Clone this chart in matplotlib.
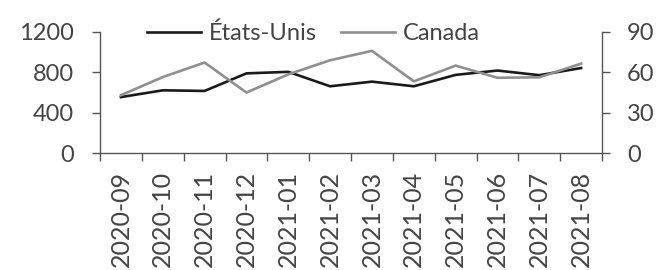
import matplotlib
matplotlib.use("Agg")
import matplotlib.pyplot as plt
import numpy as np

months = ['2020-09', '2020-10', '2020-11', '2020-12', '2021-01', '2021-02',
          '2021-03', '2021-04', '2021-05', '2021-06', '2021-07', '2021-08']
etats_unis = [555, 622, 616, 790, 805, 662, 708, 662, 775, 818, 772, 843]
canada = [43, 56.5, 67.3, 45, 58.5, 69, 76, 53.3, 65, 56, 56.3, 66.5]

plt.rcParams['font.family'] = ['Lato', 'DejaVu Sans']
plt.rcParams['font.size'] = 17
txt = '#444444'
axc = '#555555'

fig = plt.figure(figsize=(6.58, 2.70), dpi=100)
ax = fig.add_axes([0.152, 0.433, 0.763, 0.4485])
ax2 = ax.twinx()

x = np.arange(len(months))
l1, = ax.plot(x, etats_unis, color='#1a1a1a', lw=1.9, label='États-Unis')
l2, = ax2.plot(x, canada, color='#8f8f8f', lw=1.9, label='Canada')

ax.set_xlim(-0.5, len(months) - 0.5)
ax.set_ylim(0, 1200)
ax.set_yticks([0, 400, 800, 1200])
ax2.set_ylim(0, 90)
ax2.set_yticks([0, 30, 60, 90])

ax.set_xticks(x)
ax.set_xticklabels(months, rotation=90, fontsize=18)
ax.set_xticks(np.arange(-0.5, len(months)), minor=True)
ax.tick_params(axis='x', which='major', length=0, pad=13, labelcolor=txt)
ax.tick_params(axis='x', which='minor', length=6, color=axc, width=1)
ax.tick_params(axis='y', length=6, color=axc, width=1, pad=13, labelcolor=txt)
ax2.tick_params(axis='y', length=6, color=axc, width=1, pad=12, labelcolor=txt)

for a in (ax, ax2):
    a.spines['top'].set_visible(False)
    for s in a.spines.values():
        s.set_color(axc)
        s.set_linewidth(1)
ax.spines['right'].set_visible(False)
ax2.spines['left'].set_visible(False)
ax2.spines['bottom'].set_visible(False)

leg = ax.legend(handles=[l1, l2], loc='center', bbox_to_anchor=(0.425, 0.99),
                ncol=2, frameon=False, handlelength=2.3, columnspacing=1.0,
                handletextpad=0.35, borderpad=0, borderaxespad=0)
for t in leg.get_texts():
    t.set_color(txt)

fig.savefig('out.png', dpi=100)
